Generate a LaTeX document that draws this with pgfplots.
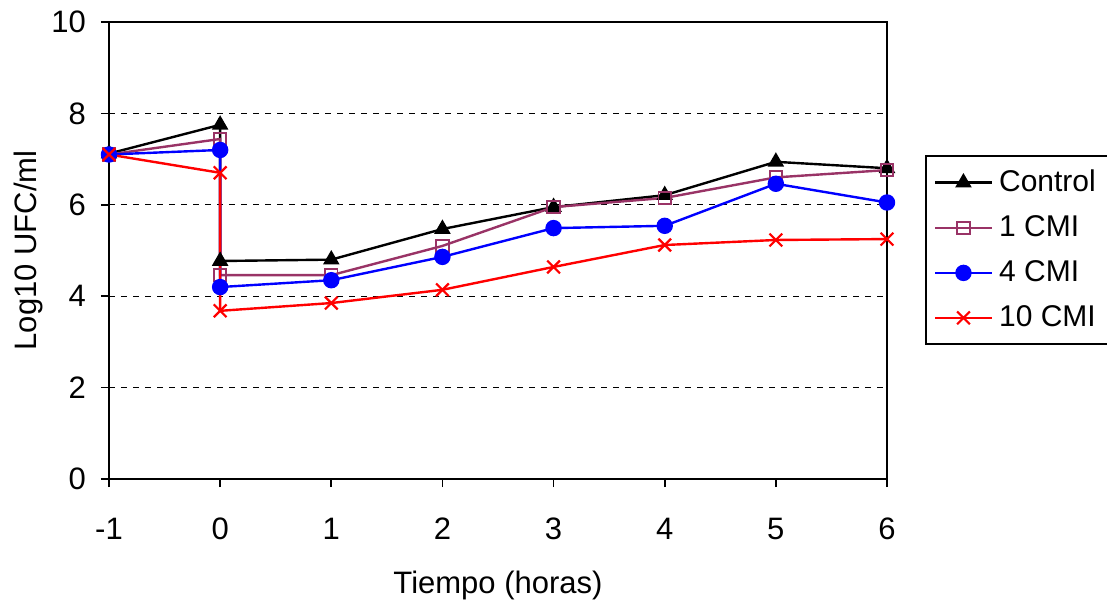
\documentclass[border=0pt]{standalone}
\usepackage{fontspec}
\setmainfont{Liberation Sans}
\usepackage{pgfplots}
\pgfplotsset{compat=1.18}
\definecolor{cmione}{RGB}{153,51,102}
\begin{document}
\begin{tikzpicture}
\useasboundingbox (-54.5pt,-65pt) rectangle (499pt,239.5pt);
\begin{axis}[
  at={(0,0)}, anchor=south west,
  scale only axis, width=389pt, height=228.5pt,
  xmin=-1, xmax=6, ymin=0, ymax=10,
  xtick={-1,0,...,6}, ytick={0,2,...,10},
  tick align=outside, xtick pos=bottom, ytick pos=left,
  major tick length=4pt,
  tick style={black, line width=0.8pt},
  axis line style={black, line width=1.1pt},
  ymajorgrids, grid style={black, dashed, line width=0.4pt},
  /pgf/number format/assume math mode=true,
  tick label style={font=\fontsize{15.5}{18}\selectfont},
  xticklabel style={yshift=-12pt},
  yticklabel style={xshift=-4pt},
  xlabel={Tiempo (horas)},
  ylabel={Log10 UFC/ml},
  every axis x label/.style={at={(axis description cs:0.5,-0.232)}, anchor=center, font=\fontsize{15.5}{18}\selectfont},
  every axis y label/.style={at={(axis description cs:-0.104,0.5)}, rotate=90, anchor=center, font=\fontsize{15.5}{18}\selectfont},
  legend style={at={(1,0.501)}, anchor=west, xshift=19pt, draw=black, line width=0.8pt,
    font=\fontsize{15}{18}\selectfont, row sep=6.5pt, inner xsep=4pt, inner ysep=5pt,
    legend cell align=left, nodes={inner xsep=3pt}},
  legend image code/.code={\draw[mark repeat=2,mark phase=2] plot coordinates {(0cm,0cm) (0.5cm,0cm) (1cm,0cm)};},
]
\addplot[black, line width=1.2pt, mark=triangle*, mark size=3.6pt, mark options={solid}] coordinates {
(-1,7.12) (0,7.75) (0,4.77) (1,4.80) (2,5.47) (3,5.95) (4,6.21) (5,6.94) (6,6.80)};
\addlegendentry{Control}
\addplot[cmione, line width=1.2pt, mark=square, mark size=3.1pt, mark options={solid, line width=0.9pt}] coordinates {
(-1,7.10) (0,7.44) (0,4.46) (1,4.46) (2,5.10) (3,5.95) (4,6.15) (5,6.60) (6,6.76)};
\addlegendentry{1 CMI}
\addplot[blue, line width=1.2pt, mark=*, mark size=3.5pt, mark options={solid}] coordinates {
(-1,7.10) (0,7.20) (0,4.20) (1,4.35) (2,4.86) (3,5.49) (4,5.54) (5,6.46) (6,6.05)};
\addlegendentry{4 CMI}
\addplot[red, line width=1.2pt, mark=x, mark size=4.5pt, mark options={solid, line width=1.1pt}] coordinates {
(-1,7.10) (0,6.70) (0,3.68) (1,3.85) (2,4.14) (3,4.64) (4,5.12) (5,5.23) (6,5.25)};
\addlegendentry{10 CMI}
\end{axis}
\end{tikzpicture}
\end{document}
